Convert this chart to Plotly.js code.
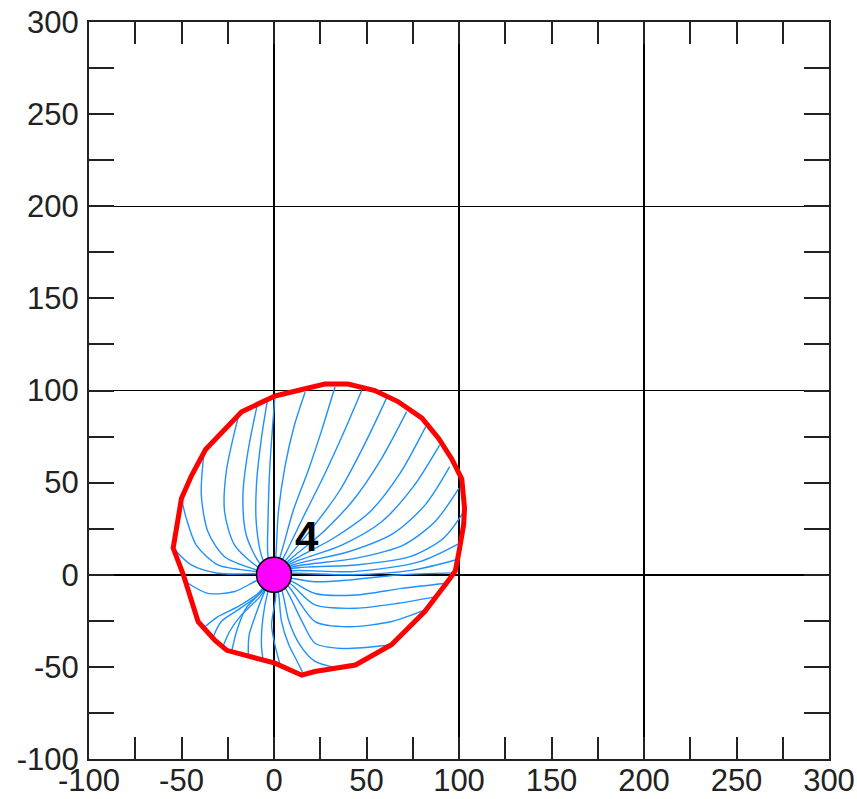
<!DOCTYPE html>
<html>
<head>
<meta charset="utf-8">
<script src="https://cdn.plot.ly/plotly-3.0.1.min.js"></script>
<style>html,body{margin:0;padding:0;background:#fff;}#chart{width:857px;height:799px;}</style>
</head>
<body>
<div id="chart"></div>
<script>
// ---- axis ticks ----
const tickValues = [-100, -50, 0, 50, 100, 150, 200, 250, 300];
const tickLabels = ["-100", "-50", "0", "50", "100", "150", "200", "250", "300"];

// ---- station ----
const stationX = [0];
const stationY = [0];
const stationLabel = "4";
const labelX = 17.8;
const labelY = 21;

// ---- outer envelope (red) ----
const envelopeX = [0.5, -17.5, -37, -44.5, -50, -54.5, -49, -41, -32, -25.5, 0.5, 15, 22, 44, 63.5, 81.5, 94, 98, 100, 102.5, 103, 101.5, 96, 89, 80, 67, 54.5, 40, 27.5, 12, 0.5];
const envelopeY = [97, 88.5, 68, 54, 41.5, 14.5, 0, -25.5, -35.5, -41, -48, -54.5, -52.5, -49, -38, -20, -3.5, 2, 12.5, 27, 36, 52, 63, 74, 85, 94, 100, 103.5, 103.5, 100, 97];

// ---- trajectories (blue), each [x, y] points ----
const trajUR1  = [[0,0],[1.1,11.6],[2.3,33.3],[5.9,58.6],[10.8,80.3],[16.8,99]];
const trajUR2  = [[0,0],[3.6,10.8],[10.5,35.1],[18.6,56.9],[25.8,78.5],[33,102]];
const trajUR3  = [[0,0],[5.4,9.8],[15.9,31.5],[26.7,53.2],[37.5,76.8],[47.4,100]];
const trajUR4  = [[0,0],[7.2,8.9],[21.3,26.1],[35.7,46],[49.2,71.3],[60.9,96]];
const trajUR5  = [[0,0],[8.3,8.0],[26.7,23.4],[42.9,40.6],[58.2,63.2],[71.7,88.5]];
const trajUR6  = [[0,0],[9,7.1],[32.1,19.8],[51.9,34.2],[68.1,55],[82,80.4]];
const trajUR7  = [[0,0],[9.5,6.2],[36.6,16.1],[58.2,28.8],[75.3,47.8],[89.5,70.4]];
const trajUR8  = [[0,0],[10.1,5.3],[40.2,12.5],[64.5,22.5],[81.6,37.8],[95,58.7]];
const trajUR9  = [[0,0],[10.5,4.4],[43.8,8.9],[69.9,16.1],[87,28.8],[100,47]];
const trajUR10 = [[0,0],[10.5,3.5],[44.7,5.3],[73.5,9.8],[91.5,19.7],[102,33.3]];
const trajUR11 = [[0,0],[10.5,2.2],[42.9,1.7],[78.9,7.1],[100.5,17.1]];
const trajUR12 = [[0,0],[10.5,0.8],[42,0],[75,2.5],[98,8]];
const trajLR1  = [[0,0],[10,-2],[22.2,-3.8],[40.2,-2.9],[67.2,-0.1],[97.5,1]];
const trajLR2  = [[0,0],[9.5,-3.5],[22.2,-10.2],[44,-11],[69,-7.4],[93.3,-4.6]];
const trajLR3  = [[0,0],[9,-5],[22.2,-16.4],[44,-18.2],[67.2,-15.5],[87.9,-11.9]];
const trajLR4  = [[0,0],[8,-6.5],[22.2,-25.4],[40.2,-28.2],[63.6,-25.4],[81.6,-19.1]];
const trajLR5  = [[0,0],[6.5,-8],[15,-25],[22.2,-37.2],[36.6,-40],[62.7,-38.1]];
const trajLR6  = [[0,0],[4.5,-9.5],[8,-25],[14,-38],[22.2,-47],[34,-50.5]];
const trajLR7  = [[0,0],[2.5,-10.5],[4,-25],[8,-38],[12,-46],[16,-54]];
const trajB1   = [[0,0],[1,-11],[-1.3,-27.3],[0.5,-38.1],[3.2,-48.5]];
const trajB2   = [[0,0],[-3.5,-10],[-6,-23.6],[-6.8,-38],[-5.9,-46.5]];
const trajB3   = [[0,0],[-5,-9],[-10,-22],[-13.5,-33],[-13.9,-44]];
const trajB4   = [[0,0],[-6,-8.5],[-15,-18],[-20,-30],[-22.9,-41.7]];
const trajLL1  = [[0,0],[-7.7,-12],[-17.7,-21.9],[-24,-30.8],[-27.6,-39]];
const trajLL2  = [[0,0],[-8.6,-11],[-19.5,-19.1],[-28.5,-25.4],[-33,-34]];
const trajLL3  = [[0,0],[-8.6,-10],[-19.5,-17.3],[-30.3,-22.7],[-38,-28.8]];
const trajLL4  = [[0,0],[-9,-3],[-21.3,-9.1],[-35.7,-10.1],[-47.8,-3.8]];
const trajUL0  = [[0,0],[-9.5,0.5],[-30.3,0.8],[-44.7,5.3],[-54,14]];
const trajUL1  = [[0,0],[-9.5,1.7],[-30.3,5.3],[-42,16.1],[-47.4,30.6],[-50,41]];
const trajUL2  = [[0,0],[-9.5,2.6],[-26.7,9.8],[-35.7,23.4],[-39.3,43.3],[-38,65]];
const trajUL3  = [[0,0],[-9,4.4],[-21.3,16.1],[-26.7,34.2],[-25.8,55.9],[-19,87]];
const trajUL4  = [[0,0],[-7.7,6.2],[-15,21.6],[-16.8,43.3],[-14.1,66.8],[-9,92.5]];
const trajUL5  = [[0,0],[-5.9,8],[-9.5,27],[-9.5,48.7],[-6.8,74],[-3.5,95]];
const trajUL6  = [[0,0],[-3.2,9.8],[-3.2,30.6],[-2.3,57.8],[0.5,97]];

const trajectories = [trajUR1, trajUR2, trajUR3, trajUR4, trajUR5, trajUR6, trajUR7, trajUR8, trajUR9, trajUR10, trajUR11, trajUR12,
  trajLR1, trajLR2, trajLR3, trajLR4, trajLR5, trajLR6, trajLR7, trajB1, trajB2, trajB3, trajB4,
  trajLL1, trajLL2, trajLL3, trajLL4, trajUL0, trajUL1, trajUL2, trajUL3, trajUL4, trajUL5, trajUL6];

const traces = [];
// empty trace that only hosts the gridline axes
traces.push({type: 'scatter', mode: 'lines', x: [], y: [], xaxis: 'x2', yaxis: 'y2', showlegend: false, hoverinfo: 'skip'});
trajectories.forEach(function (t) {
  traces.push({
    type: 'scatter', mode: 'lines',
    x: t.map(function (p) { return p[0]; }),
    y: t.map(function (p) { return p[1]; }),
    line: {color: '#1E90FF', width: 1.4, shape: 'spline', smoothing: 0.8},
    hoverinfo: 'skip', showlegend: false
  });
});
traces.push({
  type: 'scatter', mode: 'lines', x: envelopeX, y: envelopeY,
  line: {color: '#FF0000', width: 5}, showlegend: false, hoverinfo: 'skip'
});
traces.push({
  type: 'scatter', mode: 'markers', x: stationX, y: stationY,
  marker: {color: '#FF00FF', size: 35, line: {color: '#000000', width: 1.5}},
  showlegend: false, hoverinfo: 'skip'
});

const tickFont = {family: 'Liberation Sans, Arial, sans-serif', size: 31, color: '#222'};
function mainAxis(len) {
  return {
    range: [-100, 300], fixedrange: true,
    tickmode: 'array', tickvals: tickValues, ticktext: tickLabels,
    ticks: 'inside', ticklen: len, tickwidth: 2, tickcolor: '#222',
    minor: {tickmode: 'linear', tick0: 0, dtick: 25, ticks: 'inside', ticklen: len, tickwidth: 2, tickcolor: '#222', showgrid: false},
    showgrid: false, zeroline: false,
    showline: true, linecolor: '#222', linewidth: 2, mirror: 'ticks',
    tickfont: tickFont
  };
}
const xa = mainAxis(22);
const ya = mainAxis(25);
xa.ticklabelstandoff = -7;
ya.ticklabelstandoff = 2;

function gridAxis(over, anchor) {
  return {overlaying: over, anchor: anchor, range: [-100, 300], tickmode: 'linear', dtick: 100, tick0: 0,
          showgrid: true, gridcolor: '#000', gridwidth: 1.5,
          showticklabels: false, ticks: '', zeroline: false, showline: false, fixedrange: true};
}

const layout = {
  width: 857, height: 799,
  margin: {l: 89, r: 28, t: 22, b: 40, pad: 0},
  paper_bgcolor: '#ffffff', plot_bgcolor: '#ffffff',
  showlegend: false,
  xaxis: xa,
  yaxis: ya,
  xaxis2: gridAxis('x', 'y2'),
  yaxis2: gridAxis('y', 'x2'),
  annotations: [{
    x: labelX, y: labelY, xref: 'x', yref: 'y', text: stationLabel, showarrow: false,
    font: {family: 'Liberation Sans, Arial, sans-serif', size: 42, color: '#000', weight: 'bold'}
  }]
};

Plotly.newPlot('chart', traces, layout, {staticPlot: true, displayModeBar: false});
</script>
</body>
</html>
